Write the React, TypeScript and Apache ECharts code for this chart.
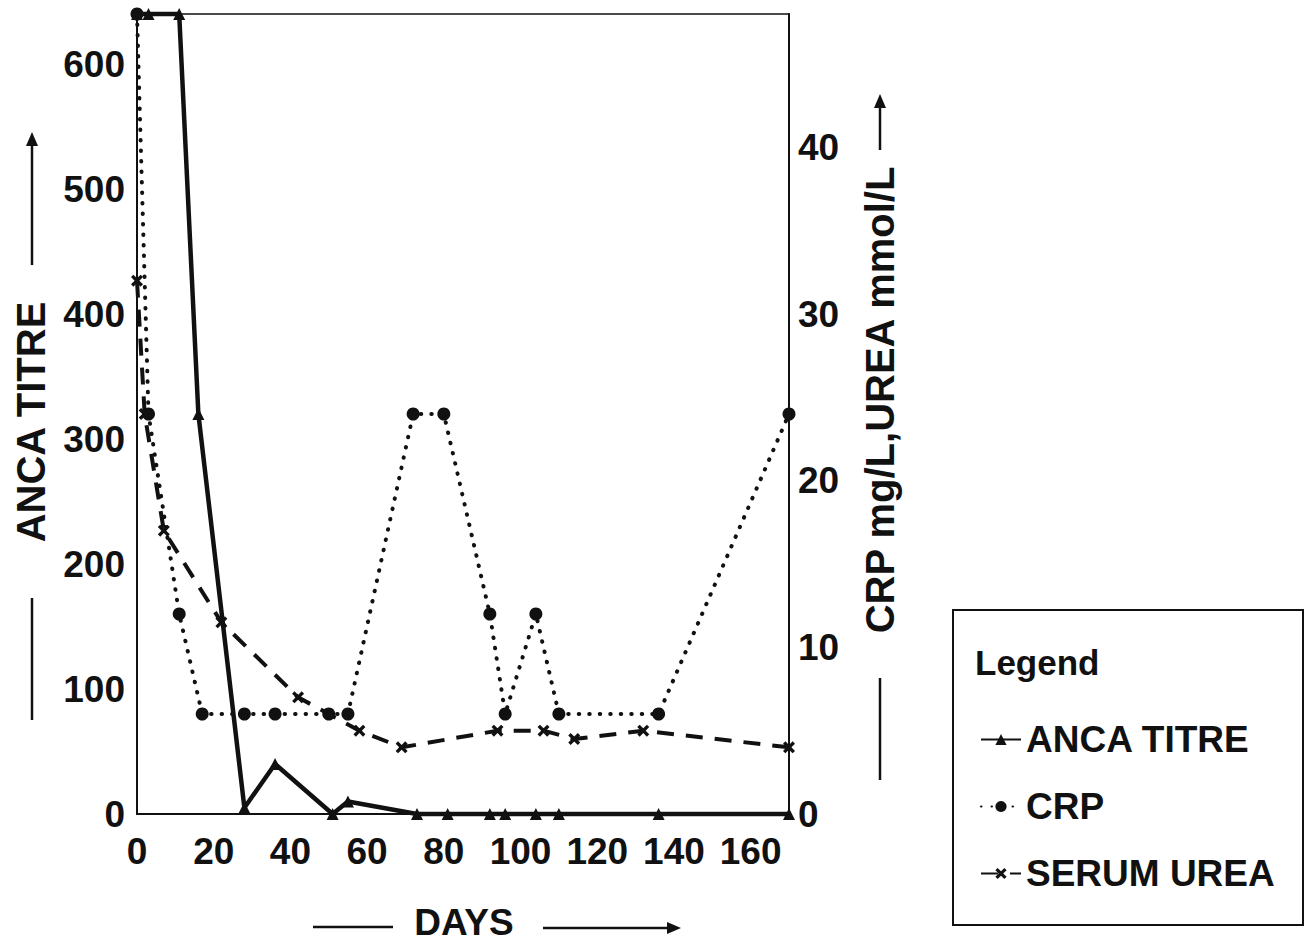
import React, { useEffect, useRef } from "react";
import * as echarts from "echarts";

// ---- data ----
const ancaDays = [0, 3, 11, 16, 28, 36, 51, 55, 73, 81, 92, 96, 104, 110, 136, 170];
const ancaTitre = [640, 640, 640, 320, 5, 40, 0, 10, 0, 0, 0, 0, 0, 0, 0, 0];

const crpDays = [0, 3, 11, 17, 28, 36, 50, 55, 72, 80, 92, 96, 104, 110, 136, 170];
const crpValues = [48, 24, 12, 6, 6, 6, 6, 6, 24, 24, 12, 6, 12, 6, 6, 24];

const ureaDays = [0, 2, 7, 22, 42, 58, 69, 94, 106, 114, 132, 170];
const ureaValues = [32, 24, 17, 11.5, 7, 5, 4, 5, 5, 4.5, 5, 4];

const seriesNames = ["ANCA TITRE", "CRP", "SERUM UREA"];

const FONT = "'Liberation Sans', Arial, Helvetica, sans-serif";
const INK = "#111";
const X_SYMBOL =
  "path://M2,0 L5,3 L8,0 L10,2 L7,5 L10,8 L8,10 L5,7 L2,10 L0,8 L3,5 L0,2 Z";

const pairs = (xs: number[], ys: number[]) => xs.map((x, i) => [x, ys[i]]);

export default function App() {
  const ref = useRef<HTMLDivElement>(null);

  useEffect(() => {
    if (!ref.current) return;
    const chart = echarts.init(ref.current, undefined, { renderer: "svg" });

    const axisLabel = (margin: number) => ({
      fontFamily: FONT,
      fontSize: 37,
      fontWeight: "bold",
      color: INK,
      margin,
      showMaxLabel: false,
    });

    const titleStyle = (text: string, size: number) => ({
      text,
      font: `bold ${size}px ${FONT}`,
      fill: INK,
      align: "center",
      verticalAlign: "middle",
      textAlign: "center",
      textVerticalAlign: "middle",
    });

    const option: any = {
      animation: false,
      backgroundColor: "#fff",
      grid: {
        left: 137,
        right: 518,
        top: 14,
        bottom: 138,
        show: true,
        borderColor: INK,
        borderWidth: 1.5,
        backgroundColor: "transparent",
      },
      xAxis: {
        type: "value",
        min: 0,
        max: 170,
        interval: 20,
        axisLine: { show: true, lineStyle: { color: INK, width: 2 } },
        axisTick: { show: false },
        splitLine: { show: false },
        axisLabel: axisLabel(19),
      },
      yAxis: [
        {
          type: "value",
          min: 0,
          max: 640,
          interval: 100,
          position: "left",
          axisLine: { show: true, lineStyle: { color: INK, width: 2 } },
          axisTick: { show: false },
          splitLine: { show: false },
          axisLabel: axisLabel(12),
        },
        {
          type: "value",
          min: 0,
          max: 48,
          interval: 10,
          position: "right",
          axisLine: { show: true, lineStyle: { color: INK, width: 2 } },
          axisTick: { show: false },
          splitLine: { show: false },
          axisLabel: axisLabel(9),
        },
      ],
      legend: {
        orient: "vertical",
        left: 975,
        top: 716,
        itemWidth: 40,
        itemHeight: 14,
        itemGap: 30,
        data: seriesNames,
        textStyle: { fontFamily: FONT, fontSize: 37, fontWeight: "bold", color: INK },
      },
      series: [
        {
          name: seriesNames[0],
          type: "line",
          yAxisIndex: 0,
          data: pairs(ancaDays, ancaTitre),
          symbol: "triangle",
          symbolSize: 12,
          clip: false,
          itemStyle: { color: INK },
          lineStyle: { color: INK, width: 4.5, type: "solid" },
          z: 3,
        },
        {
          name: seriesNames[1],
          type: "line",
          yAxisIndex: 1,
          data: pairs(crpDays, crpValues),
          symbol: "circle",
          symbolSize: 13,
          clip: false,
          itemStyle: { color: INK },
          lineStyle: { color: INK, width: 4, type: [0.5, 10], cap: "round" },
          z: 2,
        },
        {
          name: seriesNames[2],
          type: "line",
          yAxisIndex: 1,
          data: pairs(ureaDays, ureaValues),
          symbol: X_SYMBOL,
          symbolSize: 12,
          clip: false,
          itemStyle: { color: INK },
          lineStyle: { color: INK, width: 4, type: [17, 12] },
          z: 2,
        },
      ],
      graphic: [
        // left axis title
        { type: "text", x: 31, y: 422, rotation: Math.PI / 2, style: titleStyle("ANCA TITRE", 40) },
        { type: "line", shape: { x1: 32, y1: 598, x2: 32, y2: 720 }, style: { stroke: INK, lineWidth: 2.5 } },
        { type: "line", shape: { x1: 32, y1: 265, x2: 32, y2: 142 }, style: { stroke: INK, lineWidth: 2.5 } },
        { type: "polygon", shape: { points: [[32, 132], [26, 146], [38, 146]] }, style: { fill: INK } },
        // right axis title
        { type: "text", x: 880, y: 400, rotation: Math.PI / 2, style: titleStyle("CRP mg/L,UREA mmol/L", 40) },
        { type: "line", shape: { x1: 880, y1: 678, x2: 880, y2: 780 }, style: { stroke: INK, lineWidth: 2.5 } },
        { type: "line", shape: { x1: 880, y1: 150, x2: 880, y2: 104 }, style: { stroke: INK, lineWidth: 2.5 } },
        { type: "polygon", shape: { points: [[880, 94], [874, 108], [886, 108]] }, style: { fill: INK } },
        // x axis title
        { type: "text", x: 464, y: 922, style: titleStyle("DAYS", 37) },
        { type: "line", shape: { x1: 313, y1: 927, x2: 393, y2: 927 }, style: { stroke: INK, lineWidth: 2.5 } },
        { type: "line", shape: { x1: 543, y1: 928, x2: 670, y2: 928 }, style: { stroke: INK, lineWidth: 2.5 } },
        { type: "polygon", shape: { points: [[681, 928], [667, 922], [667, 934]] }, style: { fill: INK } },
        // legend box and title
        {
          type: "rect",
          shape: { x: 953, y: 610, width: 350, height: 315 },
          style: { fill: "none", stroke: INK, lineWidth: 2 },
        },
        {
          type: "text",
          x: 975,
          y: 662,
          style: {
            text: "Legend",
            font: `bold 35px ${FONT}`,
            fill: INK,
            align: "left",
            verticalAlign: "middle",
            textAlign: "left",
            textVerticalAlign: "middle",
          },
        },
      ],
    };

    chart.setOption(option);
    return () => chart.dispose();
  }, []);

  return (
    <div
      ref={ref}
      style={{ position: "fixed", left: 0, top: 0, width: 1307, height: 952, background: "#fff" }}
    />
  );
}
